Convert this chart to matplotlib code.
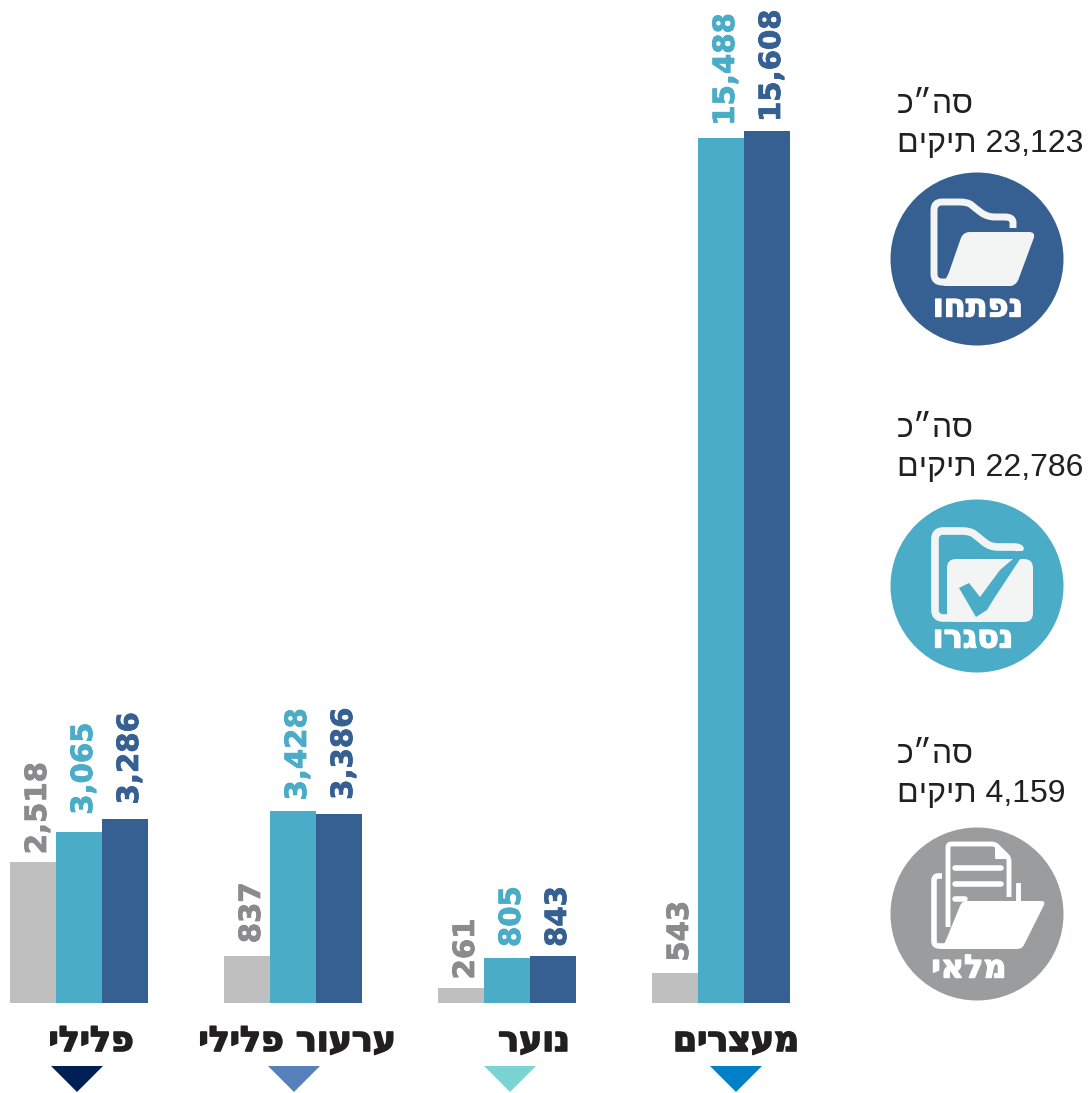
#!/usr/bin/env python3

import matplotlib
matplotlib.use('Agg')
import matplotlib.pyplot as plt
import matplotlib.patheffects as pe
import numpy as np
from matplotlib.patches import Circle, Polygon, PathPatch
from matplotlib.path import Path

# Data
categories = ["פלילי", "ערעור פלילי", "נוער", "מעצרים"]
pending = [2518, 837, 261, 543]
closed = [3065, 3428, 805, 15488]
opened = [3286, 3386, 843, 15608]

panel_titles = ["נפתחו", "נסגרו", "מלאי"]
panel_totals = ["23,123", "22,786", "4,159"]

# gap in pixels between bar top and its label, uneven in the original
pending_gap = [10, 15, 11, 13]
closed_gap = [19, 13, 13, 14]
opened_gap = [17, 16, 11, 11]

GREY = "#bfbfbf"
TEAL = "#4aacc6"
BLUE = "#376092"
STOCK = "#9b9c9e"
GREY_TXT = "#8b8b8d"
DARK = "#231f20"
ICON_WHITE = "#f3f4f4"
tri_colors = ["#001f54", "#5580bb", "#7ad4d4", "#0080c8"]

W, H = 1088, 1093
FONT = ['DejaVu Sans']
PX = 72 / 100  # points per pixel


def rtl(s):
    # matplotlib has no bidi, so Hebrew goes in visual order
    return s[::-1]


def fat(col, w):
    return [pe.withStroke(linewidth=w, foreground=col)]


fig = plt.figure(figsize=(W / 100, H / 100), dpi=100)

# Bars, axes covers pixels x 0..860, y 0..1003
ax = fig.add_axes([0, (H - 1003) / H, 860 / W, 1003 / H])
step = 214.0
bar_w = 46.0 / step
ax.set_xlim(-79 / step, (860 - 79) / step)
ax.set_ylim(0, 1003 / (872 / 15608))
ax.axis('off')

xAx = np.arange(len(categories))
series = [(pending, pending_gap, GREY, GREY_TXT, -bar_w),
          (closed, closed_gap, TEAL, TEAL, 0),
          (opened, opened_gap, BLUE, BLUE, bar_w)]
for vals, gaps, col, txt_col, off in series:
    ax.bar(xAx + off, vals, width=bar_w, color=col, edgecolor='none')
    for i, val in enumerate(vals):
        ax.annotate(f"{val:,}", (xAx[i] + off, val), xytext=(5 * PX, (gaps[i] - 2) * PX),
                    textcoords='offset points', rotation=90, ha='center', va='bottom',
                    fontsize=21, fontweight='bold', color=txt_col, family=FONT,
                    annotation_clip=False, path_effects=fat(txt_col, 0.6))

# Overlay in pixel coordinates for labels and icons
ov = fig.add_axes([0, 0, 1, 1])
ov.set_xlim(0, W)
ov.set_ylim(H, 0)
ov.axis('off')
ov.patch.set_alpha(0)

label_x = [91, 297, 534, 736]
tri_x = [77, 294, 510, 736]
for name, lx, tx, tc in zip(categories, label_x, tri_x, tri_colors):
    ov.text(lx, 1041, rtl(name), ha='center', va='center', fontsize=25, fontweight='bold',
            color=DARK, family=FONT, path_effects=fat(DARK, 1.2))
    ov.add_patch(Polygon([(tx - 26, 1066), (tx + 26, 1066), (tx, 1092)], closed=True, color=tc, lw=0))


def round_path(pts, r, closed=False):
    # polyline with its corners rounded by quadratic curves
    pts = [np.array(p, dtype=float) for p in pts]
    n = len(pts)
    verts, codes = [], []
    idx = range(n) if closed else range(1, n - 1)
    if not closed:
        verts.append(pts[0])
        codes.append(Path.MOVETO)
    for k in idx:
        p, a, b = pts[k], pts[(k - 1) % n], pts[(k + 1) % n]
        r1 = min(r, np.linalg.norm(a - p) / 2)
        r2 = min(r, np.linalg.norm(b - p) / 2)
        start = p + (a - p) / np.linalg.norm(a - p) * r1
        end = p + (b - p) / np.linalg.norm(b - p) * r2
        verts.append(start)
        codes.append(Path.MOVETO if closed and not verts[:-1] else Path.LINETO)
        verts += [p, end]
        codes += [Path.CURVE3, Path.CURVE3]
    if closed:
        verts.append(verts[0])
        codes.append(Path.CLOSEPOLY)
    else:
        verts.append(pts[-1])
        codes.append(Path.LINETO)
    return Path(verts, codes)


def line(pts, col, lw, r=8):
    ov.add_patch(PathPatch(round_path(pts, r), facecolor='none', edgecolor=col, lw=lw,
                           capstyle='butt', joinstyle='round'))


def blob(pts, col, r=6):
    ov.add_patch(PathPatch(round_path(pts, r, closed=True), facecolor=col, edgecolor='none', lw=0))


def open_icon():
    line([(1013, 228), (1013, 217), (987, 217), (975, 208), (968, 202), (934, 202), (934, 282), (1013, 282)],
         ICON_WHITE, 5)
    blob([(963, 232), (1036, 232), (1016, 286), (940, 286), (947, 278)], ICON_WHITE, 7)


def closed_icon():
    line([(1020, 551), (1020, 547), (990, 547), (978, 537), (970, 531), (935, 531), (935, 618), (1010, 618)],
         ICON_WHITE, 5.5)
    blob([(947, 559), (1033, 559), (1033, 622), (947, 622)], ICON_WHITE, 9)
    ov.add_patch(Polygon([(959, 588), (969, 583), (980, 597), (1000, 570), (1027, 547), (1024, 553),
                          (995, 597), (987, 610), (976, 617)], closed=True, color=TEAL, lw=0))


def stock_icon():
    c = "#ffffff"
    line([(948, 927), (948, 844), (995, 844), (1009, 858), (1009, 897)], c, 3.5, r=3)
    blob([(995, 846), (1007, 859), (995, 859)], c, 1)
    ov.plot([955, 1001], [868, 868], color=c, lw=4, solid_capstyle='round')
    ov.plot([955, 1001], [884, 884], color=c, lw=4, solid_capstyle='round')
    ov.plot([955, 965], [899, 899], color=c, lw=4, solid_capstyle='round')
    line([(942, 876), (934, 876), (934, 946), (945, 946)], c, 4, r=5)
    ov.plot([1018, 1018], [885, 903], color=c, lw=3.5)
    blob([(962, 901), (1046, 901), (1022, 949), (938, 949), (944, 945)], c, 5)


panel_cy = [259, 586, 914]
panel_col = [BLUE, TEAL, STOCK]
panel_lab_x = [978, 973, 969]
panel_lab_y = [308, 639, 969]
panel_txt_y = [105, 429, 755]
icons = [open_icon, closed_icon, stock_icon]

for title, total, cy, col, lx, ly, ty, icon in zip(panel_titles, panel_totals, panel_cy, panel_col,
                                                    panel_lab_x, panel_lab_y, panel_txt_y, icons):
    ov.text(897, ty, rtl("סה״כ"), ha='left', va='center', fontsize=23, color=DARK,
            family=['Liberation Sans', 'DejaVu Sans'])
    ov.text(897, ty + 39, rtl("תיקים") + " " + total, ha='left', va='center', fontsize=23, color=DARK,
            family=['Liberation Sans', 'DejaVu Sans'])
    ov.add_patch(Circle((977, cy), 86.5, color=col, lw=0))
    icon()
    ov.text(lx, ly, rtl(title), ha='center', va='center', fontsize=23, fontweight='bold',
            color='white', family=FONT, path_effects=fat('white', 1.0))

fig.savefig("out.png", dpi=100)
